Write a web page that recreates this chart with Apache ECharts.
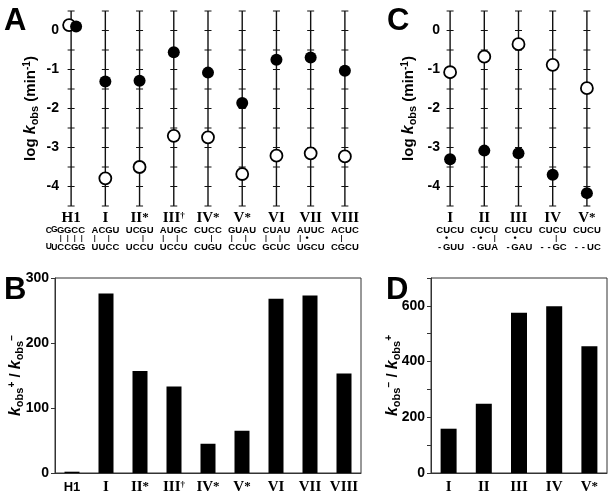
<!DOCTYPE html>
<html><head><meta charset="utf-8">
<script src="https://cdn.jsdelivr.net/npm/echarts@6/dist/echarts.min.js"></script>
<style>html,body{margin:0;padding:0;background:#fff}#c{width:612px;height:502px}</style>
</head><body><div id="c"></div>
<script>
// ---------- Panel A data ----------
const catsA = ['H1', 'I', 'II*', 'III†', 'IV*', 'V*', 'VI', 'VII', 'VIII'];
const openA = [0.14, -3.79, -3.50, -2.70, -2.74, -3.68, -3.21, -3.15, -3.23];
const filledA = [0.10, -1.31, -1.29, -0.56, -1.08, -1.86, -0.75, -0.69, -1.03];
const seqTopA = ['GGCC', 'ACGU', 'UCGU', 'AUGC', 'CUCC', 'GUAU', 'CUAU', 'AUUC', 'ACUC'];
const pairsA = ['||||', '| | ', '  | ', '| | ', '  | ', '| | ', '| | ', '|.  ', ' |  '];
const seqBotA = ['CCGG', 'UUCC', 'UCCU', 'UCCU', 'CUGU', 'CCUC', 'GCUC', 'UGCU', 'CGCU'];
const loopTopH1 = 'CG';
const loopBotH1 = 'UU';
// ---------- Panel C data ----------
const catsC = ['I', 'II', 'III', 'IV', 'V*'];
const openC = [-1.07, -0.67, -0.35, -0.88, -1.48];
const filledC = [-3.30, -3.08, -3.15, -3.70, -4.17];
const seqTopC = ['CUCU', 'CUCU', 'CUCU', 'CUCU', 'CUCU'];
const pairsC = [' .  ', ' . |', ' .  ', '  | ', '    '];
const seqBotC = ['-GUU', '-GUA', '-GAU', '--GC', '--UC'];
// ---------- Panel B / D data ----------
const catsB = ['H1', 'I', 'II*', 'III†', 'IV*', 'V*', 'VI', 'VII', 'VIII'];
const ratioB = [2, 276, 157, 133, 45, 65, 268, 273, 153];
const catsD = ['I', 'II', 'III', 'IV', 'V*'];
const ratioD = [159, 249, 575, 599, 455];
// ---------- axis ticks ----------
const logRange = [-4.5, 0.5];
const logTicks = [-4.5, -4, -3.5, -3, -2.5, -2, -1.5, -1, -0.5, 0, 0.5];
const rangeB = [0, 300];
const rangeD = [0, 700];

const SANS = "'Liberation Sans', Arial, sans-serif";
const SERIF = "'Liberation Serif', 'Times New Roman', serif";
const CELL = 7;

function catLabel(name, sansH1) {
  if (sansH1 && name === 'H1') return '{catS|H1}';
  const m = name.match(/^(.*?)([*†]?)$/);
  let s = '{cat|' + m[1] + '}';
  if (m[2] === '*') s += '{star|*}';
  if (m[2] === '†') s += '{dag|†}';
  return s;
}
function seqRow(str) {
  return str.split('').map(ch => '{s|' + ch + '}').join('');
}
function pairRow(str) {
  return str.split('').map(ch => ch === '|' ? '{bar||}' : ch === '.' ? '{dot|•}' : '{pe| }').join('');
}
function seqLabelA(value, idx) {
  let top = seqRow(seqTopA[idx]);
  let mid = pairRow(pairsA[idx]);
  let bot = seqRow(seqBotA[idx]);
  if (idx === 0) {
    top = '{lb|' + loopTopH1[0] + '}{lt|' + loopTopH1[1] + '}' + top + '{pad| }';
    mid = '{pad| }' + mid + '{pad| }';
    bot = '{lt|' + loopBotH1[0] + '}{lb|' + loopBotH1[1] + '}' + bot + '{pad| }';
  }
  return [catLabel(value), top, mid, bot].join('\n');
}
function seqLabelC(value, idx) {
  return [catLabel(value), seqRow(seqTopC[idx]), pairRow(pairsC[idx]), seqRow(seqBotC[idx])].join('\n');
}

const labelRich = {
  cat: { fontFamily: SERIF, fontWeight: 'bold', fontSize: 15, lineHeight: 14, align: 'center', color: '#000' },
  catS: { fontFamily: SANS, fontWeight: 'bold', fontSize: 13, lineHeight: 14, align: 'center', color: '#000' },
  star: { fontFamily: SERIF, fontWeight: 'bold', fontSize: 13, lineHeight: 14, align: 'center', color: '#000' },
  dag: { fontFamily: SERIF, fontWeight: 'bold', fontSize: 9, lineHeight: 8, verticalAlign: 'top', align: 'center', color: '#000' },
  s: { fontFamily: SANS, fontWeight: 'bold', fontSize: 9.5, lineHeight: 10, width: CELL, align: 'center', color: '#000' },
  lt: { fontFamily: SANS, fontWeight: 'bold', fontSize: 8.5, lineHeight: 6, width: 5.5, verticalAlign: 'top', align: 'center', color: '#000' },
  lb: { fontFamily: SANS, fontWeight: 'bold', fontSize: 8.5, lineHeight: 6, width: 5.5, verticalAlign: 'bottom', align: 'center', color: '#000' },
  pad: { fontSize: 6, lineHeight: 6, width: 11, align: 'center' },
  bar: { fontFamily: SANS, fontWeight: 'bold', fontSize: 7, lineHeight: 7, width: CELL, align: 'center', color: '#000' },
  dot: { fontFamily: SANS, fontWeight: 'bold', fontSize: 9, lineHeight: 7, width: CELL, align: 'center', color: '#000' },
  pe: { fontSize: 6, lineHeight: 7, width: CELL, align: 'center' }
};

const nameRich = {
  t: { fontFamily: SANS, fontWeight: 'bold', fontSize: 15, lineHeight: 18, color: '#000' },
  k: { fontFamily: SANS, fontWeight: 'bold', fontStyle: 'italic', fontSize: 16, lineHeight: 18, color: '#000' },
  sub: { fontFamily: SANS, fontWeight: 'bold', fontSize: 11, lineHeight: 10, verticalAlign: 'bottom', color: '#000' },
  sup: { fontFamily: SANS, fontWeight: 'bold', fontSize: 10, lineHeight: 10, verticalAlign: 'top', color: '#000' }
};

const tickLabel = { fontFamily: SANS, fontWeight: 'bold', fontSize: 14, color: '#000' };

function lineRenderer(params, api) {
  const idx = api.value(0);
  const top = api.coord([idx, logRange[1]]);
  const bot = api.coord([idx, logRange[0]]);
  const children = [{
    type: 'line',
    shape: { x1: top[0], y1: top[1], x2: bot[0], y2: bot[1] },
    style: { stroke: '#111', lineWidth: 1.4 }
  }];
  logTicks.forEach(t => {
    const p = api.coord([idx, t]);
    children.push({
      type: 'line',
      shape: { x1: p[0] - 3.5, y1: p[1], x2: p[0] + 3.5, y2: p[1] },
      style: { stroke: '#111', lineWidth: 1 }
    });
  });
  return { type: 'group', children };
}

const chart = echarts.init(document.getElementById('c'));
const gridBase = { outerBoundsMode: 'none', containLabel: false };
chart.setOption({
  animation: false,
  backgroundColor: '#fff',
  grid: [
    Object.assign({ left: 54, top: 11, width: 308, height: 195 }, gridBase),
    Object.assign({ left: 433, top: 11, width: 171, height: 195 }, gridBase),
    Object.assign({ left: 55, top: 278, width: 306, height: 195, show: true, borderColor: '#333', borderWidth: 1 }, gridBase),
    Object.assign({ left: 431, top: 278, width: 176, height: 195, show: true, borderColor: '#333', borderWidth: 1 }, gridBase)
  ],
  xAxis: [
    { gridIndex: 0, type: 'category', data: catsA, axisLine: { show: false }, axisTick: { show: false },
      axisLabel: { interval: 0, margin: 5, formatter: seqLabelA, rich: labelRich, align: 'center' } },
    { gridIndex: 1, type: 'category', data: catsC, axisLine: { show: false }, axisTick: { show: false },
      axisLabel: { interval: 0, margin: 5, formatter: seqLabelC, rich: labelRich, align: 'center' } },
    { gridIndex: 2, type: 'category', data: catsB, axisLine: { lineStyle: { color: '#333' } }, axisTick: { show: false },
      axisLabel: { interval: 0, margin: 7, formatter: v => catLabel(v, true), rich: labelRich } },
    { gridIndex: 3, type: 'category', data: catsD, axisLine: { lineStyle: { color: '#333' } }, axisTick: { show: false },
      axisLabel: { interval: 0, margin: 7, formatter: v => catLabel(v, false), rich: labelRich } }
  ],
  yAxis: [
    { gridIndex: 0, type: 'value', min: logRange[0], max: logRange[1], interval: 0.5,
      axisLine: { show: false }, axisTick: { show: false }, splitLine: { show: false },
      axisLabel: Object.assign({ margin: -5, formatter: v => Number.isInteger(v) ? String(v) : '' }, tickLabel),
      name: '{t|log }{k|k}{sub|obs}{t| (min}{sup|-1}{t|)}', nameLocation: 'middle', nameGap: 14, nameMoveOverlap: false,
      nameTextStyle: { rich: nameRich } },
    { gridIndex: 1, type: 'value', min: logRange[0], max: logRange[1], interval: 0.5,
      axisLine: { show: false }, axisTick: { show: false }, splitLine: { show: false },
      axisLabel: Object.assign({ margin: -7, formatter: v => Number.isInteger(v) ? String(v) : '' }, tickLabel),
      name: '{t|log }{k|k}{sub|obs}{t| (min}{sup|-1}{t|)}', nameLocation: 'middle', nameGap: 15, nameMoveOverlap: false,
      nameTextStyle: { rich: nameRich } },
    { gridIndex: 2, type: 'value', min: rangeB[0], max: rangeB[1], interval: 100,
      axisLine: { show: true, lineStyle: { color: '#333' } }, axisTick: { show: true, length: 4, lineStyle: { color: '#333' } },
      splitLine: { show: false },
      axisLabel: Object.assign({ margin: 6 }, tickLabel),
      name: '{k|k}{sub|obs}{sup|+}{t| / }{k|k}{sub|obs}{sup|−}', nameLocation: 'middle', nameGap: 30, nameMoveOverlap: false,
      nameTextStyle: { rich: nameRich } },
    { gridIndex: 3, type: 'value', min: rangeD[0], max: rangeD[1], interval: 100,
      axisLine: { show: true, lineStyle: { color: '#333' } }, axisTick: { show: true, length: 4, lineStyle: { color: '#333' } },
      splitLine: { show: false },
      axisLabel: Object.assign({ margin: 6, formatter: v => (v % 200 === 0 ? String(v) : '') }, tickLabel),
      name: '{k|k}{sub|obs}{sup|−}{t| / }{k|k}{sub|obs}{sup|+}', nameLocation: 'middle', nameGap: 29, nameMoveOverlap: false,
      nameTextStyle: { rich: nameRich } }
  ],
  graphic: [
    { type: 'text', left: 4, top: 6, style: { text: 'A', fontFamily: SANS, fontWeight: 'bold', fontSize: 31, fill: '#000' } },
    { type: 'text', left: 4, top: 275, style: { text: 'B', fontFamily: SANS, fontWeight: 'bold', fontSize: 31, fill: '#000' } },
    { type: 'text', left: 387, top: 6, style: { text: 'C', fontFamily: SANS, fontWeight: 'bold', fontSize: 31, fill: '#000' } },
    { type: 'text', left: 386, top: 275, style: { text: 'D', fontFamily: SANS, fontWeight: 'bold', fontSize: 31, fill: '#000' } }
  ],
  series: [
    { type: 'custom', xAxisIndex: 0, yAxisIndex: 0, renderItem: lineRenderer, data: catsA.map((c, i) => [i]), z: 1 },
    { type: 'custom', xAxisIndex: 1, yAxisIndex: 1, renderItem: lineRenderer, data: catsC.map((c, i) => [i]), z: 1 },
    { type: 'scatter', xAxisIndex: 0, yAxisIndex: 0, symbolSize: 12, z: 3,
      itemStyle: { color: '#fff', borderColor: '#000', borderWidth: 1.8, opacity: 1 },
      data: openA.map((v, i) => i === 0 ? { value: v, symbolOffset: [-2, 0] } : v) },
    { type: 'scatter', xAxisIndex: 0, yAxisIndex: 0, symbolSize: 12, z: 4,
      itemStyle: { color: '#000', opacity: 1 },
      data: filledA.map((v, i) => i === 0 ? { value: v, symbolOffset: [5, 0] } : v) },
    { type: 'scatter', xAxisIndex: 1, yAxisIndex: 1, symbolSize: 12, z: 3,
      itemStyle: { color: '#fff', borderColor: '#000', borderWidth: 1.8, opacity: 1 },
      data: openC },
    { type: 'scatter', xAxisIndex: 1, yAxisIndex: 1, symbolSize: 12, z: 4,
      itemStyle: { color: '#000', opacity: 1 },
      data: filledC },
    { type: 'bar', xAxisIndex: 2, yAxisIndex: 2, barWidth: 15, itemStyle: { color: '#000' }, data: ratioB },
    { type: 'bar', xAxisIndex: 3, yAxisIndex: 3, barWidth: 16, itemStyle: { color: '#000' }, data: ratioD }
  ]
});
</script>
</body></html>
